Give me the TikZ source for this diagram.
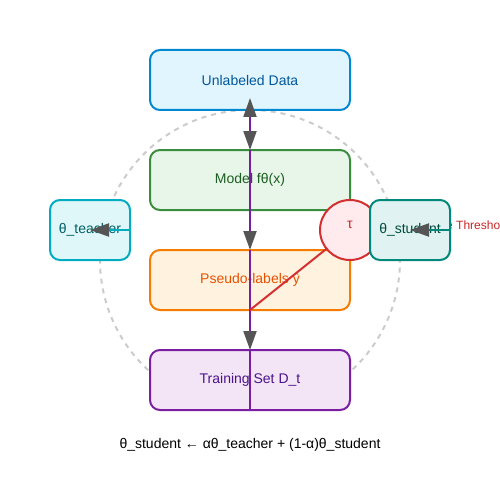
\documentclass[tikz,border=0pt]{standalone}
\usepackage{fontspec}
\setmainfont{Liberation Sans}
\usetikzlibrary{positioning, arrows.meta}

\definecolor{tipgray}{HTML}{555555}
\definecolor{ringgray}{HTML}{CCCCCC}
\definecolor{dataline}{HTML}{0288D1}\definecolor{datafill}{HTML}{E1F5FE}\definecolor{datatext}{HTML}{01579B}
\definecolor{modelline}{HTML}{388E3C}\definecolor{modelfill}{HTML}{E8F5E9}\definecolor{modeltext}{HTML}{1B5E20}
\definecolor{pseudoline}{HTML}{F57C00}\definecolor{pseudofill}{HTML}{FFF3E0}\definecolor{pseudotext}{HTML}{E65100}
\definecolor{trainline}{HTML}{7B1FA2}\definecolor{trainfill}{HTML}{F3E5F5}\definecolor{traintext}{HTML}{4A148C}
\definecolor{teachline}{HTML}{00ACC1}\definecolor{teachfill}{HTML}{E0F7FA}\definecolor{teachtext}{HTML}{006064}
\definecolor{studline}{HTML}{00897B}\definecolor{studfill}{HTML}{E0F2F1}\definecolor{studtext}{HTML}{004D40}
\definecolor{tauline}{HTML}{D32F2F}\definecolor{taufill}{HTML}{FFEBEE}\definecolor{tautext}{HTML}{C62828}

\begin{document}
\begin{tikzpicture}[x=1pt, y=-1pt,
    box/.style={rectangle, rounded corners=10pt, draw, line width=2pt, outer sep=0pt,
      inner sep=0pt, minimum width=200pt, minimum height=60pt, font=\fontsize{14}{16}\selectfont},
    smallbox/.style={box, minimum width=80pt},
    ring/.style={draw=ringgray, line width=2pt, dash pattern=on 5pt off 5pt},
    >={Triangle[length=19pt, width=13pt, color=tipgray]}]

  \fill[white] (0,0) rectangle (500,500);
  \useasboundingbox (0,0) rectangle (500,500);
  \draw[ring] (250,260) circle[radius=150pt];

  \node[box, draw=dataline, fill=datafill, text=datatext] (unlabeled) at (250,80) {Unlabeled Data};
  \node[box, draw=modelline, fill=modelfill, text=modeltext, below=40pt of unlabeled] (model) {Model fθ(x)};
  \node[box, draw=pseudoline, fill=pseudofill, text=pseudotext, below=40pt of model] (pseudo) {Pseudo-labels ŷ};
  \node[box, draw=trainline, fill=trainfill, text=traintext, below=40pt of pseudo] (training) {Training Set D\_t};
  \node[smallbox, draw=teachline, fill=teachfill, text=teachtext] (teacher) at (90,230) {θ\_teacher};
  \node[circle, draw=tauline, fill=taufill, line width=2pt, minimum size=60pt, inner sep=0pt,
    outer sep=0pt] (tau) at (350,230) {};
  \node[text=tautext, font=\fontsize{14}{16}\selectfont] (taulabel) at (350,225) {τ};
  \node[anchor=base west, inner sep=0pt, text=tautext, font=\fontsize{12}{14}\selectfont] (threshold)
    at (392,229) {Confidence Threshold};
  \node[smallbox, draw=studline, fill=studfill, text=studtext] (student) at (410,230) {θ\_student};

  \draw[trainline, line width=2pt, <->] ([yshift=12pt]unlabeled.south) -- (model.north);
  \draw[trainline, line width=2pt, ->] (model.north) -- (pseudo.north);
  \draw[trainline, line width=2pt, ->] (pseudo.north) -- (training.north);
  \draw[trainline, line width=2pt] (training.north) -- (training.south);
  \draw[tauline, line width=2pt] (pseudo.south) -- (tau);
  \draw[teachline, line width=2pt, ->] (teacher.east) -- ([xshift=-40pt]teacher.east);
  \draw[studline, line width=2pt, ->] (student.east) -- ([xshift=-40pt]student.east);

  \node[font=\fontsize{14}{16}\selectfont] (update) at (250,445)
    {θ\_student ← αθ\_teacher + (1-α)θ\_student};
\end{tikzpicture}
\end{document}
